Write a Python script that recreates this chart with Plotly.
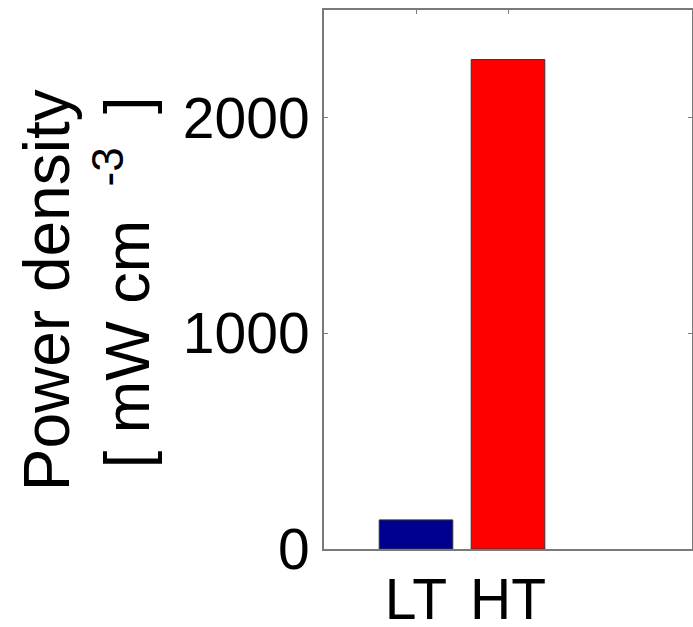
import plotly.graph_objects as go

categories = ["LT", "HT"]
positions = [1, 2]
values = [135, 2270]
colors = ["#00008f", "#ff0000"]
y_ticks = [0, 1000, 2000]

fig = go.Figure()
fig.add_trace(go.Bar(
    x=positions, y=values, width=0.8,
    marker=dict(color=colors, line=dict(color="#333333", width=1)),
))

axis_col = "#7a7a7a"
fam = "Liberation Sans, Arial, sans-serif"
font = dict(family=fam, size=57, color="black")

fig.update_layout(
    width=693, height=627,
    margin=dict(l=324, r=1, t=10, b=78),
    paper_bgcolor="white", plot_bgcolor="white",
    showlegend=False,
    font=font,
    xaxis=dict(
        range=[0, 4], tickvals=positions, ticktext=categories,
        ticks="inside", ticklen=4, tickcolor=axis_col, tickwidth=1,
        showline=True, linecolor=axis_col, linewidth=2, mirror="ticks",
        showgrid=False, zeroline=False, layer="below traces",
        tickfont=font, automargin=False, ticklabelstandoff=0,
    ),
    yaxis=dict(
        range=[0, 2500], tickvals=y_ticks,
        ticks="inside", ticklen=4, tickcolor=axis_col, tickwidth=1,
        showline=True, linecolor=axis_col, linewidth=2, mirror="ticks",
        showgrid=False, zeroline=False, layer="below traces",
        tickfont=font, ticklabelstandoff=1, automargin=False,
    ),
)

fig.add_annotation(
    text="Power density", textangle=-90, showarrow=False,
    xref="paper", yref="paper", x=0, y=0.48, xanchor="center", yanchor="middle",
    xshift=-277, font=dict(family=fam, size=64, color="black"),
)
fig.add_annotation(
    text="[ mW cm&#8197; <sup>-3</sup>&#8197; ]", textangle=-90, showarrow=False,
    xref="paper", yref="paper", x=0, y=0.495, xanchor="center", yanchor="middle",
    xshift=-202, font=dict(family=fam, size=63, color="black"),
)

fig.write_html(
    "out.html",
    config={"displayModeBar": False},
    post_script="document.body.style.margin='0';document.body.style.overflow='hidden';",
)
